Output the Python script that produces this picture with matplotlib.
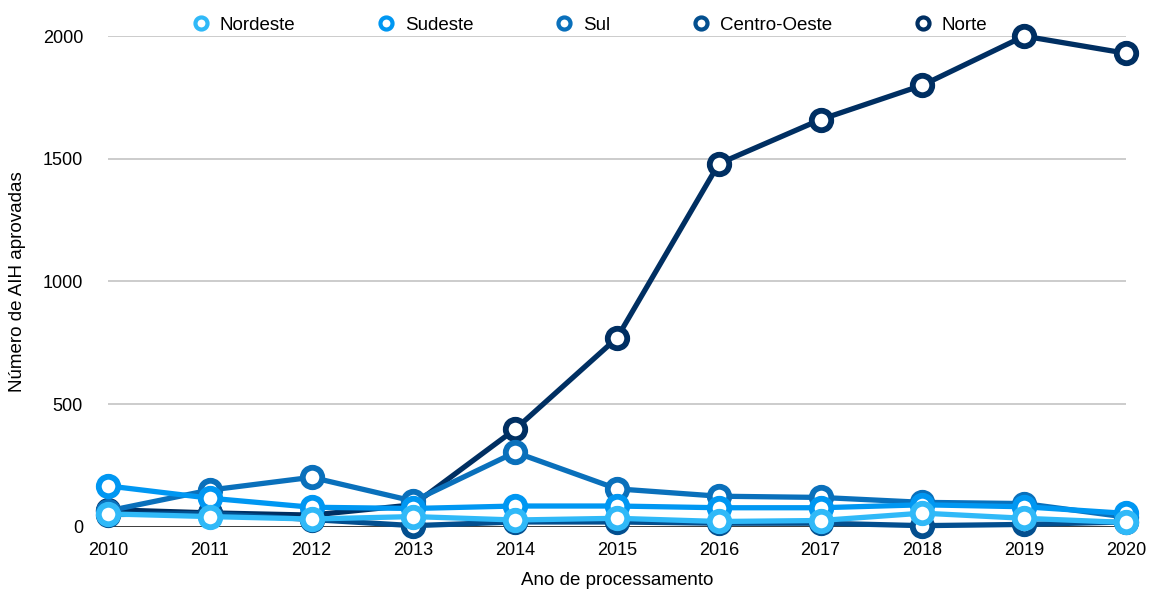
import matplotlib
matplotlib.use('Agg')
from matplotlib import pyplot as plt

plt.rcParams['font.family'] = ['Liberation Sans', 'DejaVu Sans']

anos = [2010, 2011, 2012, 2013, 2014, 2015, 2016, 2017, 2018, 2019, 2020]
regioes = ['Nordeste', 'Sudeste', 'Sul', 'Centro-Oeste', 'Norte']
nordeste = [53, 42, 32, 42, 28, 35, 22, 26, 56, 35, 18]
sudeste = [167, 117, 80, 75, 85, 85, 78, 78, 90, 82, 55]
sul = [65, 150, 202, 105, 304, 155, 125, 120, 100, 95, 40]
centro_oeste = [50, 55, 30, 5, 20, 20, 15, 15, 5, 10, 20]
norte = [70, 57, 48, 90, 398, 770, 1480, 1660, 1800, 2000, 1930]

cores = ['#30b9f8', '#0097f2', '#0a70bb', '#034f8f', '#002f62']
series = [nordeste, sudeste, sul, centro_oeste, norte]

fig = plt.figure(figsize=(11.49, 5.92), dpi=100)
ax = fig.add_axes([0.094, 0.110, 0.886, 0.829])

# draw darkest first so the light series sit on top
for nome, vals, cor, z in zip(regioes[::-1], series[::-1], cores[::-1], range(5)):
    ax.plot(anos, vals, color=cor, lw=3.8, marker='o', ms=14, mew=4.2,
            mfc='white', mec=cor, clip_on=False, zorder=3 + z, label=nome)

ax.set_xlim(2010, 2020)
ax.set_ylim(0, 2000)
ax.set_xticks(anos)
ax.set_yticks([0, 500, 1000, 1500, 2000])
ax.tick_params(length=0, labelsize=13)
ax.tick_params(axis='y', pad=18)
ax.tick_params(axis='x', pad=11)
for s in ax.spines.values():
    s.set_visible(False)
ax.grid(axis='y', color='#c8c8c8', lw=1.3)
ax.axhline(0, color='#333333', lw=1.3, zorder=2)
ax.set_axisbelow(True)

ax.set_xlabel('Ano de processamento', fontsize=13.5, labelpad=9)
ax.set_ylabel('Número de AIH aprovadas', fontsize=13.5, labelpad=12)

handles, labels = ax.get_legend_handles_labels()
leg = fig.legend(handles[::-1], labels[::-1], loc='center', ncol=5,
                 bbox_to_anchor=(0.513, 0.957), frameon=False, fontsize=13.5,
                 handlelength=1.0, handletextpad=0.5, columnspacing=4.35,
                 markerscale=0.62)
for h in leg.legend_handles:
    h.set_linestyle('none')
    h.set_markeredgewidth(3.0)

plt.savefig('out.png', dpi=100)
